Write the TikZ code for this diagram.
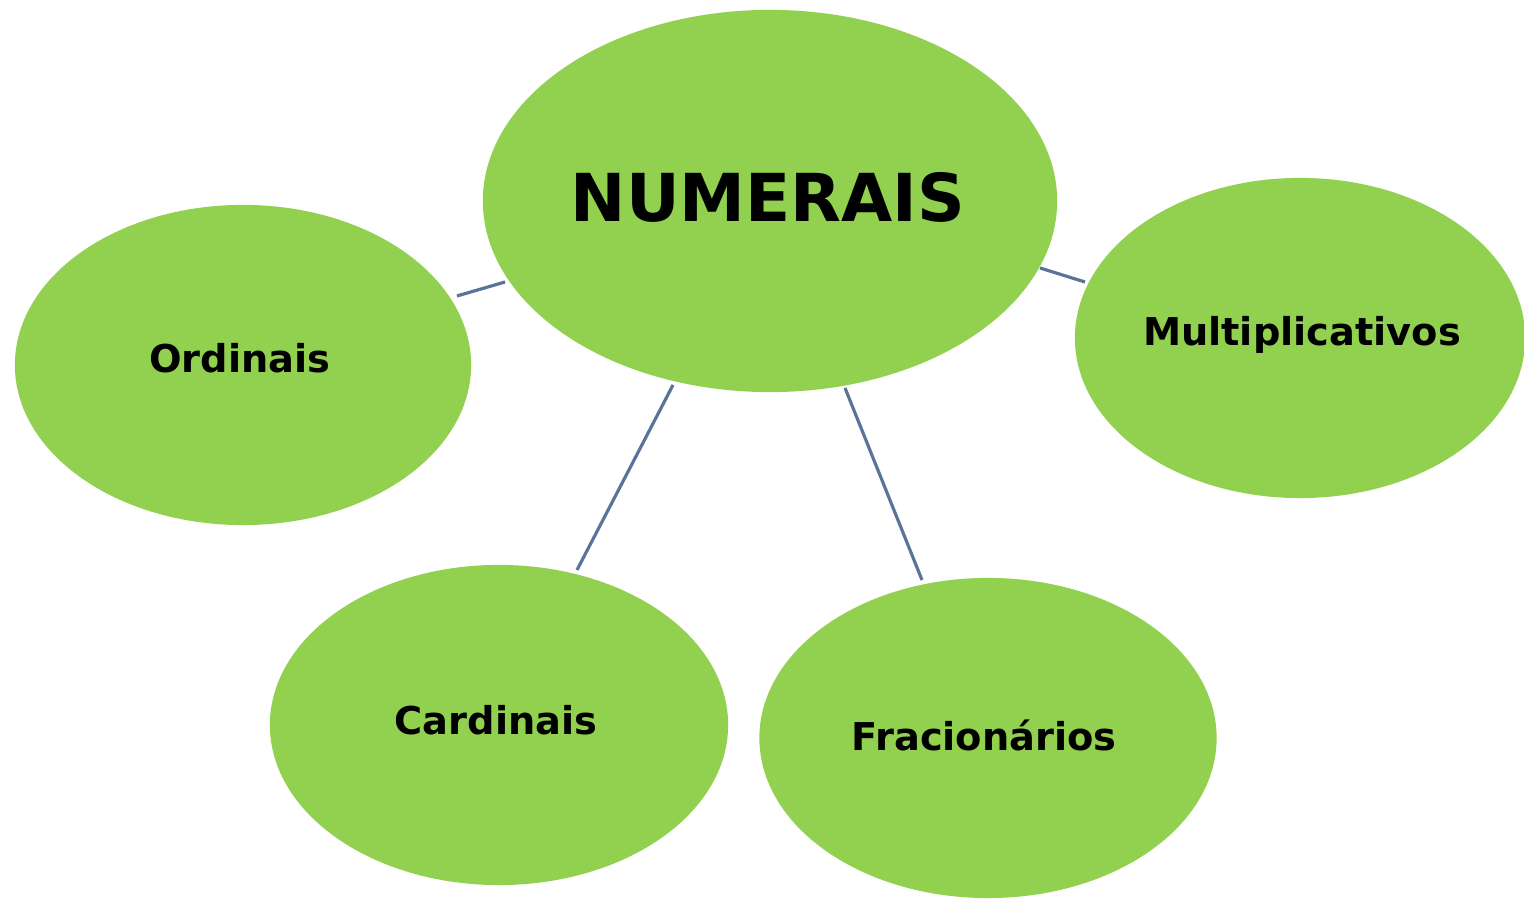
\documentclass[tikz,border=0pt]{standalone}
\usepackage{fontspec}
\setmainfont{DejaVu Sans}
\usetikzlibrary{shapes.geometric}
\definecolor{leaf}{HTML}{92D050}
\definecolor{linkc}{HTML}{5A7399}
\begin{document}
\begin{tikzpicture}[x=0.01cm,y=-0.01cm,
  bubble/.style={ellipse,fill=leaf,draw=none,inner sep=0pt},
  lbl/.style={font=\bfseries\fontsize{10.9pt}{12pt}\selectfont,text=black},
  link/.style={draw=linkc,line width=0.9pt}]
\useasboundingbox[fill=white] (0,0) rectangle (1524,901);
\node[bubble,minimum width=5.74cm,minimum height=3.82cm] (num) at (770,201) {};
\node[bubble,minimum width=4.56cm,minimum height=3.20cm] (ord) at (243,365) {};
\node[bubble,minimum width=4.50cm,minimum height=3.20cm] (mul) at (1300,338) {};
\node[bubble,minimum width=4.58cm,minimum height=3.20cm] (car) at (499,725) {};
\node[bubble,minimum width=4.57cm,minimum height=3.20cm] (fra) at (988,738) {};
\coordinate (a1) at (457,296); \coordinate (a2) at (505,282);
\coordinate (b1) at (1040,268); \coordinate (b2) at (1085,282);
\coordinate (c1) at (577,570); \coordinate (c2) at (673,385);
\coordinate (d1) at (845,388); \coordinate (d2) at (922,580);
\draw[link] (a1) -- (a2);
\draw[link] (b1) -- (b2);
\draw[link] (c1) -- (c2);
\draw[link] (d1) -- (d2);
\node[font=\bfseries\fontsize{18.8pt}{21pt}\selectfont] (tnum) at (768,197) {NUMERAIS};
\node[lbl] (tord) at (240,358) {Ordinais};
\node[lbl] (tmul) at (1302,335) {Multiplicativos};
\node[lbl] (tcar) at (496,720) {Cardinais};
\node[lbl] (tfra) at (984,735) {Fracionários};
\end{tikzpicture}
\end{document}
